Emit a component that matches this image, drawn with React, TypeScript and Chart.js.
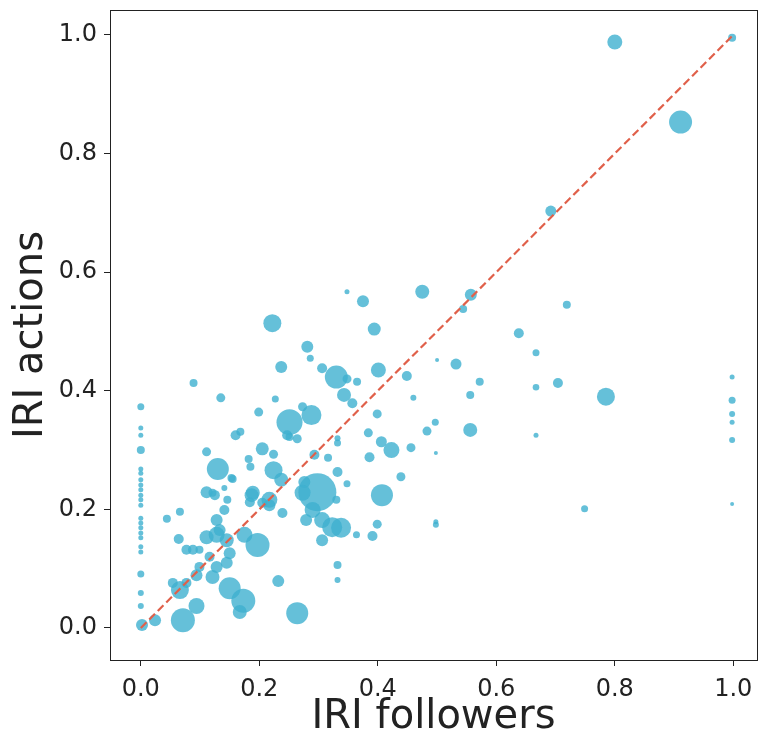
import React, { useEffect, useRef } from "react";
import { Chart, registerables } from "chart.js";

Chart.register(...registerables);

// IRI followers (x) for each observation
const followers = [
  0.800, 0.911, 0.998, 0.692, 0.719, 0.638, 0.667, 0.667, 0.704, 0.785,
  0.667, 0.998, 0.998, 0.998, 0.998, 0.998, 0.749, 0.998, 0.348, 0.375,
  0.475, 0.557, 0.544, 0.394, 0.281, 0.286, 0.500, 0.532, 0.572, 0.401,
  0.449, 0.306, 0.330, 0.348, 0.365, 0.343, 0.357, 0.460, 0.556, 0.399,
  0.497, 0.483, 0.556, 0.384, 0.406, 0.423, 0.456, 0.498, 0.386, 0.332,
  0.332, 0.222, 0.237, 0.089, 0.135, 0.227, 0.199, 0.273, 0.251, 0.288,
  0.264, 0.251, 0.160, 0.168, 0.111, 0.205, 0.224, 0.182, 0.185,
  0, 0, 0, 0, 0, 0, 0, 0, 0, 0, 0, 0, 0, 0, 0, 0, 0, 0, 0, 0, 0, 0,
  0.002, 0.024, 0.071, 0.094, 0.066, 0.054, 0.044, 0.066, 0.064, 0.077,
  0.088, 0.099, 0.111, 0.130, 0.111, 0.125, 0.141, 0.155, 0.189, 0.184,
  0.217, 0.224, 0.237, 0.239, 0.175, 0.197, 0.128, 0.141, 0.133, 0.145,
  0.150, 0.116, 0.128, 0.099, 0.094, 0.077, 0.121, 0.150, 0.173, 0.167,
  0.232, 0.264, 0.298, 0.273, 0.279, 0.306, 0.306, 0.332, 0.330, 0.348,
  0.290, 0.407, 0.439, 0.217, 0.323, 0.338, 0.364, 0.391, 0.399, 0.332,
  0.332, 0.498, 0.498, 0.316, 0.293, 0.153, 0.121, 0.146, 0.187, 0.205,
  0.247, 0.276, 0.128, 0.145,
];

// IRI actions (y) for each observation
const actions = [
  0.988, 0.853, 0.995, 0.703, 0.545, 0.497, 0.464, 0.406, 0.413, 0.390,
  0.325, 0.423, 0.384, 0.361, 0.347, 0.317, 0.201, 0.209, 0.567, 0.551,
  0.567, 0.562, 0.538, 0.504, 0.474, 0.455, 0.452, 0.445, 0.415, 0.435,
  0.425, 0.438, 0.423, 0.420, 0.415, 0.393, 0.379, 0.388, 0.393, 0.361,
  0.347, 0.332, 0.334, 0.329, 0.314, 0.300, 0.304, 0.295, 0.288, 0.320,
  0.312, 0.514, 0.440, 0.413, 0.388, 0.386, 0.364, 0.373, 0.347, 0.359,
  0.319, 0.322, 0.325, 0.331, 0.297, 0.302, 0.293, 0.285, 0.272,
  0.373, 0.337, 0.325, 0.300, 0.268, 0.261, 0.250, 0.241, 0.233, 0.224,
  0.216, 0.207, 0.185, 0.177, 0.169, 0.160, 0.152, 0.137, 0.128, 0.091,
  0.059, 0.037,
  0.005, 0.013, 0.013, 0.037, 0.064, 0.076, 0.184, 0.196, 0.150, 0.132,
  0.132, 0.132, 0.153, 0.268, 0.229, 0.224, 0.236, 0.251, 0.228, 0.212,
  0.207, 0.266, 0.250, 0.194, 0.157, 0.140, 0.182, 0.199, 0.165, 0.148,
  0.126, 0.120, 0.103, 0.103, 0.089, 0.076, 0.086, 0.067, 0.046, 0.027,
  0.079, 0.025, 0.229, 0.228, 0.182, 0.182, 0.148, 0.263, 0.216, 0.243,
  0.199, 0.224, 0.255, 0.216, 0.170, 0.169, 0.157, 0.155, 0.175, 0.106,
  0.081, 0.174, 0.179, 0.287, 0.292, 0.253, 0.228, 0.216, 0.224, 0.211,
  0.325, 0.246, 0.157, 0.110,
];

// bubble size for each observation
const weights = [
  7.5, 11.5, 4, 5.5, 4, 5, 3.5, 3.3, 5, 9,
  2.5, 2.5, 3.5, 3, 2.5, 3, 3.5, 2, 2.5, 6,
  7, 6, 4, 6.5, 6, 3.5, 2, 5.5, 4, 7.5,
  5, 5, 11.5, 4.5, 4, 7, 5, 3, 4, 4.5,
  3.5, 4.5, 7, 4.5, 5.5, 8, 4.5, 2, 5, 3,
  3.5, 9, 6, 4, 4.5, 3.5, 4.5, 4.5, 13, 10,
  4.5, 4, 5, 4, 4.5, 6.5, 4.5, 4, 4,
  3.5, 2.5, 2.5, 4, 2.5, 2.5, 2.5, 2.5, 2.5, 2.5,
  2.5, 2.5, 2.5, 2.5, 2.5, 2.5, 2.5, 2.5, 2.5, 3.5,
  3, 3,
  6, 6, 12, 8, 9, 5, 4, 4, 5, 5,
  5, 4, 7, 11, 6, 5, 3, 4, 7, 5,
  6, 9, 7, 5, 8, 12, 6, 5, 6, 7,
  6, 5, 6, 5, 6, 5, 7, 11, 12, 7,
  6, 11, 19, 8, 6, 8, 6, 5, 4, 3.5,
  8, 11, 4.5, 8, 10, 10, 3.5, 5, 4.5, 4,
  3, 3, 2.5, 4, 5, 4, 4, 4, 7, 5,
  5, 6, 8, 6,
];

const diagonalX = [0, 1];
const diagonalY = [0, 1];
const tickValues = [0, 0.2, 0.4, 0.6, 0.8, 1.0];

const frameBox = {
  id: "frameBox",
  afterDraw(chart: any) {
    const { ctx, chartArea } = chart;
    ctx.save();
    ctx.strokeStyle = "#222";
    ctx.lineWidth = 1;
    ctx.strokeRect(
      Math.round(chartArea.left) + 0.5,
      Math.round(chartArea.top) + 0.5,
      Math.round(chartArea.right - chartArea.left),
      Math.round(chartArea.bottom - chartArea.top)
    );
    ctx.restore();
  },
};

export default function App() {
  const ref = useRef<HTMLCanvasElement | null>(null);

  useEffect(() => {
    if (!ref.current) return;
    const points = followers.map((x, i) => ({ x, y: actions[i], r: weights[i] }));
    const diag = diagonalX.map((x, i) => ({ x, y: diagonalY[i] }));
    const tickFont = { family: "DejaVu Sans", size: 24 };
    const titleFont = { family: "DejaVu Sans", size: 40, lineHeight: 1.1 };
    const chart = new Chart(ref.current, {
      type: "bubble",
      data: {
        datasets: [
          {
            type: "line",
            data: diag,
            borderColor: "#e0604a",
            borderWidth: 2.2,
            borderDash: [8, 4],
            pointRadius: 0,
            fill: false,
            order: 0,
          } as any,
          {
            type: "bubble",
            data: points,
            backgroundColor: "rgba(62,176,208,0.8)",
            borderWidth: 0,
            hoverRadius: 0,
            order: 1,
          } as any,
        ],
      },
      options: {
        animation: false,
        responsive: true,
        maintainAspectRatio: false,
        layout: { autoPadding: false, padding: { left: 0, top: 10, right: 11, bottom: 0 } },
        plugins: { legend: { display: false }, tooltip: { enabled: false } },
        scales: {
          x: {
            type: "linear",
            min: -0.052,
            max: 1.04,
            afterBuildTicks: (s: any) => {
              s.ticks = tickValues.map((v) => ({ value: v }));
            },
            afterFit: (s: any) => {
              s.height = 80;
              s.paddingLeft = 0;
              s.paddingRight = 0;
            },
            grid: { drawOnChartArea: false, drawTicks: true, tickLength: 6, color: "#222" },
            border: { display: false },
            ticks: {
              color: "#222",
              font: tickFont,
              padding: 9,
              maxRotation: 0,
              callback: (v: any) => Number(v).toFixed(1),
            },
            title: {
              display: true,
              text: "IRI followers",
              color: "#222",
              font: titleFont,
              padding: { top: 0, bottom: 0 },
            },
          },
          y: {
            type: "linear",
            min: -0.054,
            max: 1.042,
            afterBuildTicks: (s: any) => {
              s.ticks = tickValues.map((v) => ({ value: v }));
            },
            afterFit: (s: any) => {
              s.width = 110;
              s.paddingTop = 0;
              s.paddingBottom = 0;
            },
            grid: { drawOnChartArea: false, drawTicks: true, tickLength: 6, color: "#222" },
            border: { display: false },
            ticks: {
              color: "#222",
              font: tickFont,
              padding: 7,
              callback: (v: any) => Number(v).toFixed(1),
            },
            title: {
              display: true,
              text: "IRI actions",
              color: "#222",
              font: titleFont,
              padding: { top: 10, bottom: 0 },
            },
          },
        },
      } as any,
      plugins: [frameBox],
    });
    return () => chart.destroy();
  }, []);

  return (
    <div style={{ position: "fixed", left: 0, top: 0, width: 768, height: 740, background: "#fff" }}>
      <canvas ref={ref} />
    </div>
  );
}
